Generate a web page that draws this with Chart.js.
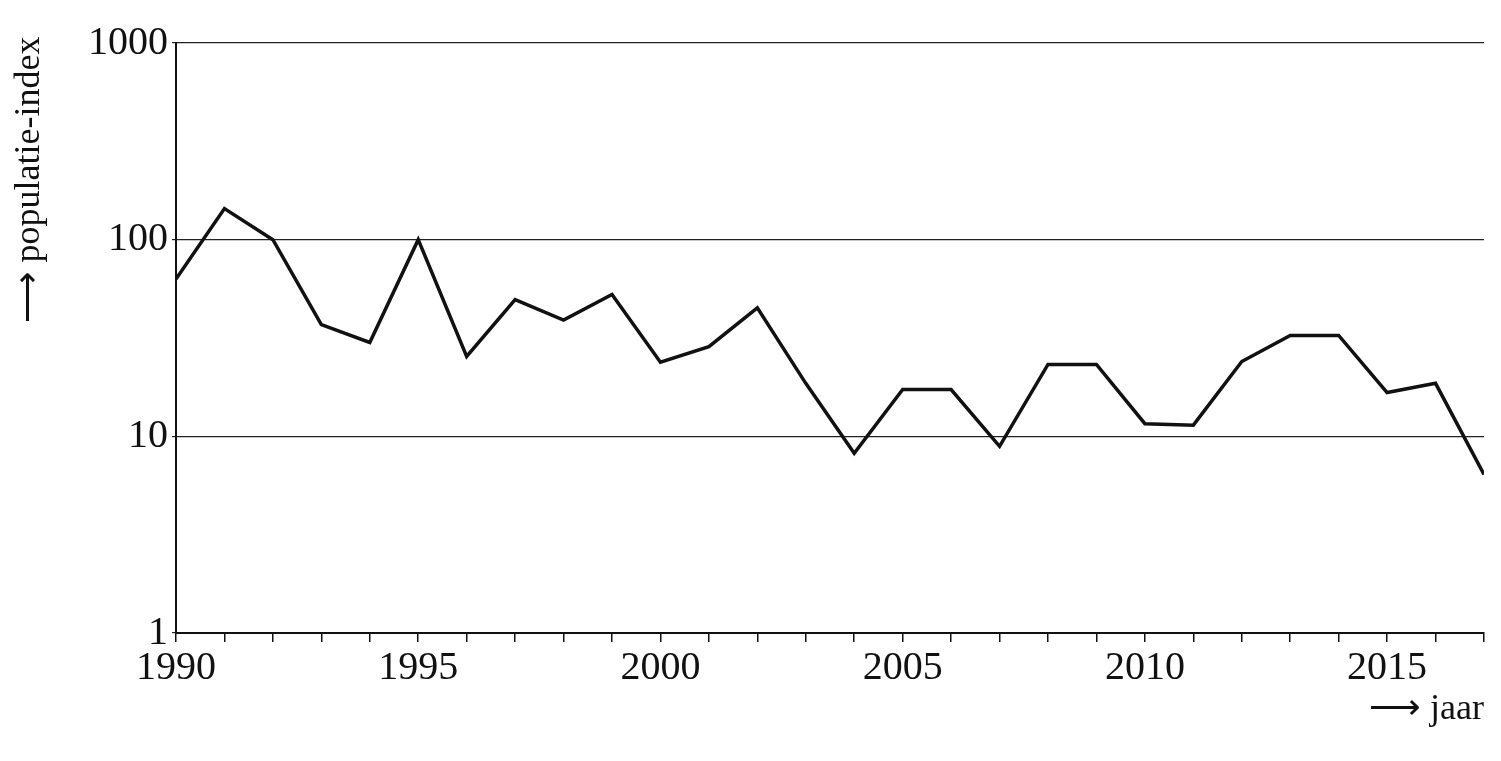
<!DOCTYPE html>
<html>
<head>
<meta charset="utf-8">
<script src="https://cdn.jsdelivr.net/npm/chart.js@4"></script>
<style>
  html, body { margin: 0; padding: 0; background: #fff; }
  #wrap { width: 1501px; height: 761px; }
</style>
</head>
<body>
<div id="wrap"><canvas id="graph"></canvas></div>
<script>
const years = [1990, 1991, 1992, 1993, 1994, 1995, 1996, 1997, 1998, 1999,
  2000, 2001, 2002, 2003, 2004, 2005, 2006, 2007, 2008, 2009,
  2010, 2011, 2012, 2013, 2014, 2015, 2016, 2017]
const index = [63, 144, 100, 37, 30, 100, 25.5, 49.6, 39, 52.6,
  23.8, 28.6, 45, 18.6, 8.2, 17.3, 17.3, 8.9, 23.2, 23.2,
  11.6, 11.4, 24, 32.6, 32.6, 16.7, 18.6, 6.4]
const yTicks = [1, 10, 100, 1000]
const yTitle = '\u27F6 populatie-index'
const xTitle = '\u27F6 jaar'

const font = "'Liberation Serif', 'Times New Roman', serif"

const titles = {
  id: 'titles',
  afterDraw(chart) {
    const ctx = chart.ctx
    ctx.save()
    ctx.fillStyle = '#111'
    ctx.font = '36px ' + font
    ctx.translate(30, 180)
    ctx.rotate(-Math.PI / 2)
    ctx.textAlign = 'center'
    ctx.textBaseline = 'middle'
    ctx.fillText(yTitle, 0, 0)
    ctx.restore()
    ctx.save()
    ctx.fillStyle = '#111'
    ctx.font = '36px ' + font
    ctx.textAlign = 'right'
    ctx.textBaseline = 'middle'
    ctx.fillText(xTitle, chart.chartArea.right, 710)
    ctx.restore()
  }
}

new Chart(document.getElementById('graph'), {
  type: 'line',
  data: {
    datasets: [{
      data: years.map((y, i) => ({ x: y, y: index[i] })),
      borderColor: '#111',
      borderWidth: 3.5,
      pointStyle: false,
      tension: 0
    }]
  },
  options: {
    responsive: true,
    maintainAspectRatio: false,
    animation: false,
    layout: { padding: { left: 0, right: 17, top: 43, bottom: 0 } },
    plugins: { legend: { display: false }, tooltip: { enabled: false } },
    scales: {
      x: {
        type: 'linear', min: 1990, max: 2017,
        afterFit(s) { s.height = 128 },
        border: { color: '#111', width: 2 },
        grid: { drawOnChartArea: false, drawTicks: true, tickLength: 9, color: '#111', lineWidth: 1.5 },
        ticks: {
          stepSize: 1, autoSkip: false, maxRotation: 0,
          color: '#111', font: { family: font, size: 40 }, padding: 2,
          callback: v => v % 5 === 0 ? String(v) : ''
        }
      },
      y: {
        type: 'logarithmic', min: 1, max: 1000,
        afterFit(s) { s.width = 176 },
        afterBuildTicks(s) { s.ticks = yTicks.map(v => ({ value: v })) },
        border: { color: '#111', width: 2 },
        grid: { color: '#222', lineWidth: 1.2, drawTicks: true, tickLength: 4 },
        ticks: {
          color: '#111', font: { family: font, size: 40 }, padding: 4,
          callback: v => String(v)
        }
      }
    }
  },
  plugins: [titles]
})
</script>
</body>
</html>
